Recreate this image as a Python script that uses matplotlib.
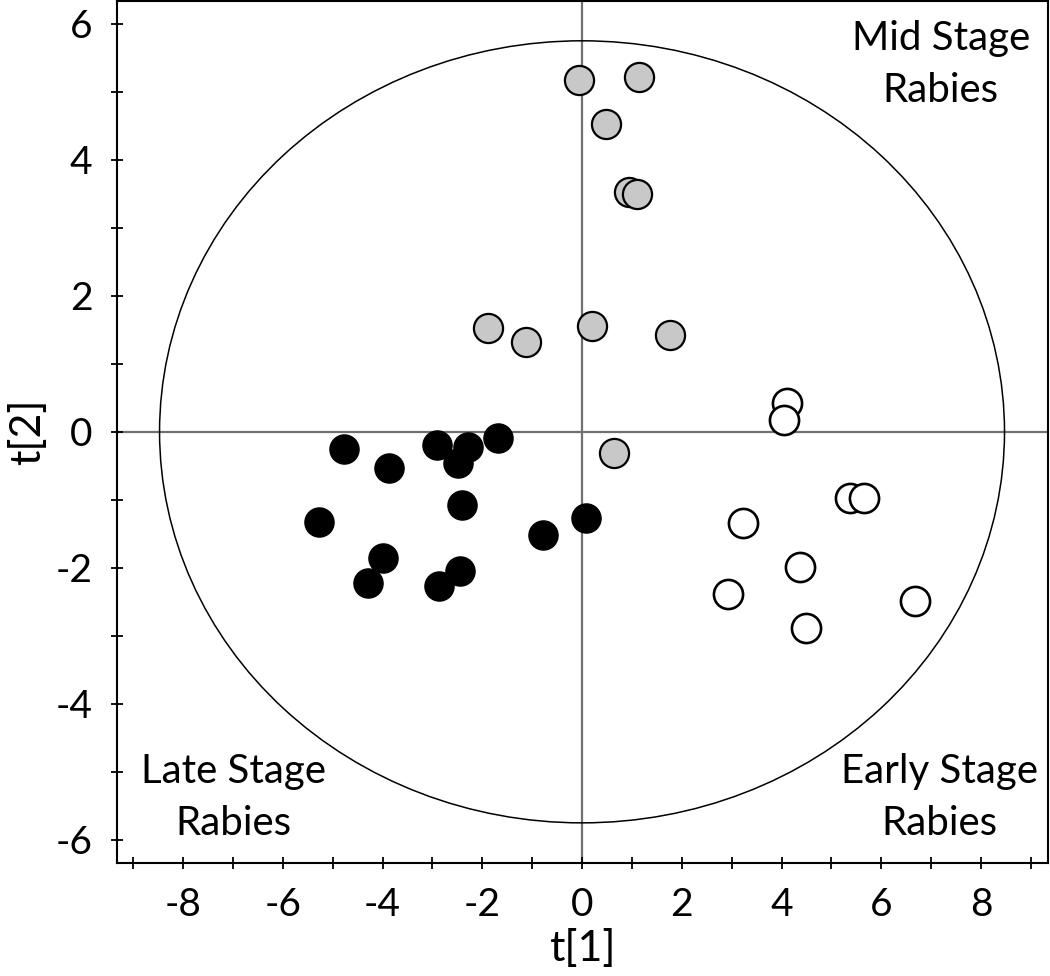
import matplotlib
matplotlib.use("Agg")
import matplotlib.pyplot as plt
from matplotlib.patches import Ellipse
from matplotlib.ticker import MultipleLocator

plt.rcParams['font.family'] = ['Lato', 'DejaVu Sans']
plt.rcParams['axes.unicode_minus'] = False

# Late stage (black filled)
late_x = [-4.77, -3.86, -2.91, -2.28, -2.48, -1.69, -2.41, -5.28, -0.78, 0.07, -4.00, -4.30, -2.44, -2.87]
late_y = [-0.25, -0.53, -0.19, -0.22, -0.46, -0.09, -1.08, -1.32, -1.51, -1.26, -1.86, -2.22, -2.05, -2.27]

# Mid stage (gray)
mid_x = [-0.07, 1.14, 0.49, 0.94, 1.10, -1.88, -1.12, 0.20, 1.76, 0.64]
mid_y = [5.17, 5.22, 4.52, 3.52, 3.49, 1.52, 1.32, 1.56, 1.42, -0.31]

# Early stage (open)
early_x = [4.10, 4.05, 5.38, 5.66, 3.22, 4.37, 2.92, 6.67, 4.49]
early_y = [0.43, 0.17, -0.97, -0.97, -1.34, -1.99, -2.38, -2.49, -2.89]

ellipse_a = 8.47
ellipse_b = 5.75

fig = plt.figure(figsize=(10.5, 9.76), dpi=100)
ax = fig.add_axes([0.1111, 0.1158, 0.8869, 0.8835])
ax.set_xlim(-9.33, 9.34)
ax.set_ylim(-6.34, 6.34)

ax.axhline(0, color='#707070', lw=1.6, zorder=1)
ax.axvline(0, color='#707070', lw=1.6, zorder=1)
ax.add_patch(Ellipse((0, 0), 2 * ellipse_a, 2 * ellipse_b, fill=False,
                     edgecolor='black', lw=1.1, zorder=1))

s = 440
ax.scatter(late_x, late_y, s=s, c='black', edgecolors='black', linewidths=1.0, zorder=3)
ax.scatter(mid_x, mid_y, s=s, c='#c8c8c8', edgecolors='black', linewidths=1.6, zorder=3)
ax.scatter(early_x, early_y, s=s, c='white', edgecolors='black', linewidths=1.9, zorder=3)

ax.xaxis.set_major_locator(MultipleLocator(2))
ax.xaxis.set_minor_locator(MultipleLocator(1))
ax.yaxis.set_major_locator(MultipleLocator(2))
ax.yaxis.set_minor_locator(MultipleLocator(1))
ax.tick_params(which='both', direction='inout', length=9, width=1.3, top=False, right=False)
ax.tick_params(axis='both', which='major', labelsize=28, pad=13)
for sp in ax.spines.values():
    sp.set_linewidth(1.5)

ax.set_xlabel('t[1]', fontsize=31, labelpad=4)
ax.set_ylabel('t[2]', fontsize=31, labelpad=6)

tk = dict(fontsize=29, ha='center', va='center', multialignment='center', linespacing=1.5)
ax.text(7.19, 5.40, 'Mid Stage\nRabies', **tk)
ax.text(-6.99, -5.37, 'Late Stage\nRabies', **tk)
ax.text(7.17, -5.37, 'Early Stage\nRabies', **tk)

fig.savefig('out.png', dpi=100)
